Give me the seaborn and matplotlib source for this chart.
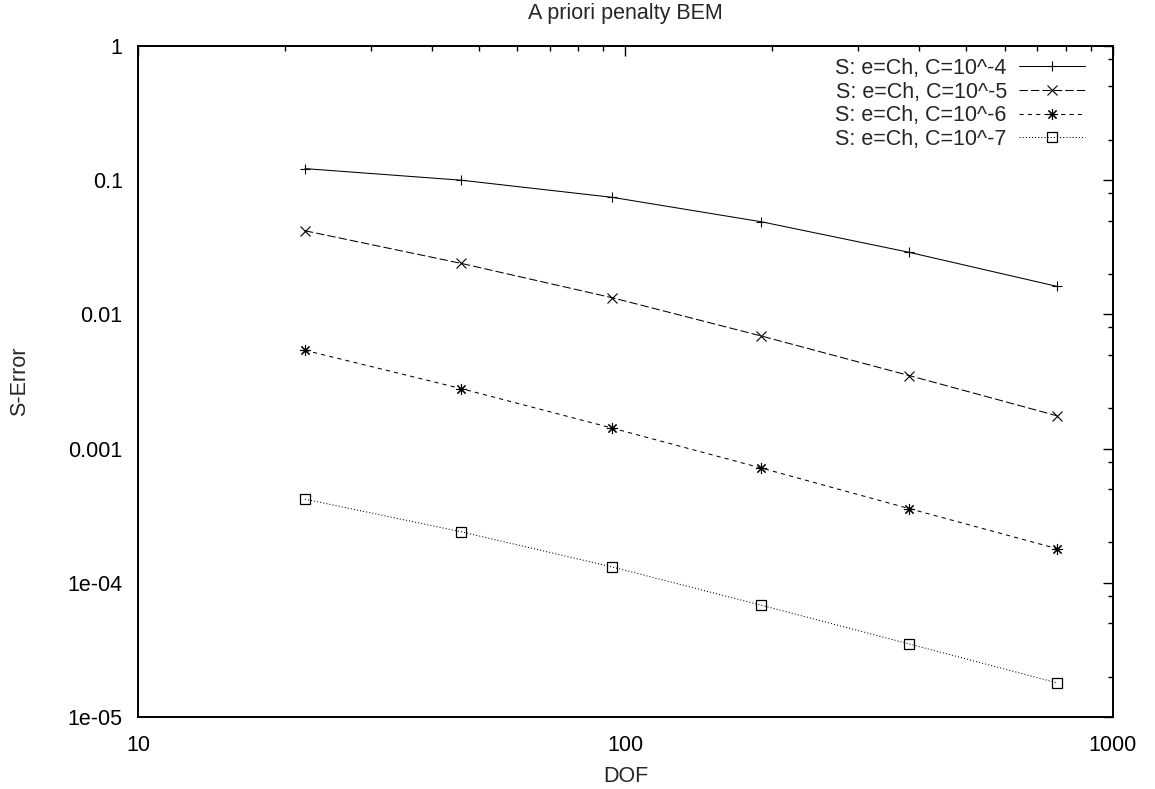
import numpy as np
import pandas as pd
import matplotlib
matplotlib.use("Agg")
import matplotlib.pyplot as plt
from matplotlib.ticker import LogLocator, FixedLocator, FixedFormatter, NullFormatter
import seaborn as sns

dof = [22, 46, 94, 190, 382, 766]
err_c4 = [0.122, 0.100, 0.0745, 0.049, 0.029, 0.0162]
err_c5 = [0.042, 0.024, 0.0133, 0.0069, 0.0035, 0.00176]
err_c6 = [0.0054, 0.0028, 0.00142, 0.000716, 0.000357, 0.00018]
err_c7 = [0.00042, 0.00024, 0.000131, 0.000068, 0.000035, 0.000018]
labels = ["S: e=Ch, C=10^-4", "S: e=Ch, C=10^-5", "S: e=Ch, C=10^-6", "S: e=Ch, C=10^-7"]

ytick_vals = [1e-5, 1e-4, 1e-3, 1e-2, 1e-1, 1]
ytick_labels = ["1e-05", "1e-04", "0.001", "0.01", "0.1", "1"]
xtick_vals = [10, 100, 1000]
xtick_labels = ["10", "100", "1000"]

sns.set_style("white")
plt.rcParams["font.family"] = ["Liberation Sans", "DejaVu Sans"]
FS = 15.5

fig = plt.figure(figsize=(11.55, 7.89), dpi=100)
ax = fig.add_axes([0.1195, 0.0913, 0.8441, 0.8504])

series = [err_c4, err_c5, err_c6, err_c7]
styles = [
    dict(linestyle="-", marker="+", markersize=6.8, mew=0.8),
    dict(linestyle=(0, (8, 3)), marker="x", markersize=7.5, mew=0.8),
    dict(linestyle=(0, (4, 4)), marker=(8, 2, 0), markersize=8, mew=0.8),
    dict(linestyle=(0, (1, 2)), marker="s", markersize=7, mew=0.9, fillstyle="none"),
]
for vals, lab, st in zip(series, labels, styles):
    df = pd.DataFrame({"DOF": dof, "err": vals})
    sns.lineplot(data=df, x="DOF", y="err", ax=ax, color="black", linewidth=0.75,
                 label=lab, markeredgecolor="black", **st)

ax.set_xscale("log")
ax.set_yscale("log")
ax.set_xlim(10, 1000)
ax.set_ylim(1e-5, 1)

ax.xaxis.set_major_locator(FixedLocator(xtick_vals))
ax.xaxis.set_major_formatter(FixedFormatter(xtick_labels))
ax.xaxis.set_minor_locator(LogLocator(base=10, subs=np.arange(2, 10)))
ax.xaxis.set_minor_formatter(NullFormatter())
ax.yaxis.set_major_locator(FixedLocator(ytick_vals))
ax.yaxis.set_major_formatter(FixedFormatter(ytick_labels))
ax.yaxis.set_minor_locator(LogLocator(base=10, subs=[2, 5, 8]))
ax.yaxis.set_minor_formatter(NullFormatter())

ax.tick_params(which="both", direction="in", top=True, right=True, colors="black",
               labelsize=FS, width=1.0)
ax.tick_params(which="major", length=7)
ax.tick_params(which="minor", length=3.6)
ax.tick_params(axis="x", which="major", pad=13)
ax.tick_params(axis="y", which="major", pad=11)
for sp in ax.spines.values():
    sp.set_color("black")
    sp.set_linewidth(1.4)

ax.set_xlabel("DOF", fontsize=FS, labelpad=7)
ax.set_ylabel("S-Error", fontsize=FS, labelpad=27)
ax.set_title("A priori penalty BEM", fontsize=FS, pad=19.4)

leg = ax.legend(loc="upper right", bbox_to_anchor=(0.9713, 0.9821), frameon=False,
                markerfirst=False, fontsize=FS, handlelength=3.07, labelspacing=0.12,
                borderaxespad=0.0, borderpad=0.0, handletextpad=0.56)

fig.savefig("out.png", dpi=100)
